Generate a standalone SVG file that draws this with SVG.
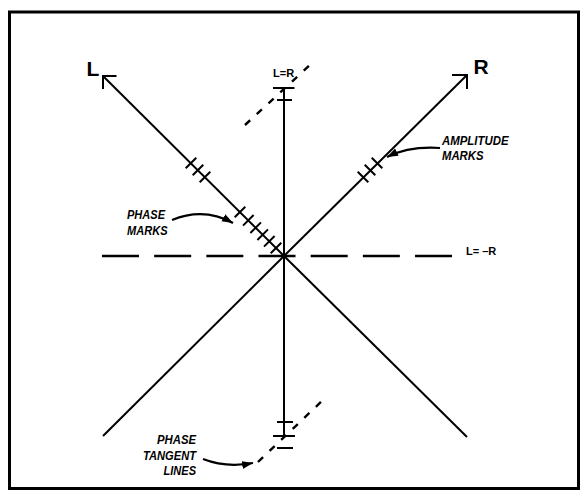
<svg xmlns="http://www.w3.org/2000/svg" width="586" height="500" viewBox="0 0 586 500">
<style>
.ax{stroke:#000;stroke-width:2;fill:none;stroke-linecap:butt}
.tk{stroke:#000;stroke-width:2;fill:none}
.dash{stroke:#000;stroke-width:2.6;fill:none;stroke-dasharray:37 15.17}
.tan{stroke:#000;stroke-width:2.4;fill:none;stroke-dasharray:7 9}
.ann{stroke:#000;stroke-width:2.2;fill:none}
.lbl{font-family:"Liberation Sans",Arial,sans-serif;font-style:italic;font-weight:bold;font-size:13px;fill:#000}
.sm{font-family:"Liberation Sans",Arial,sans-serif;font-weight:bold;font-size:11px;fill:#000}
.big{font-family:"Liberation Sans",Arial,sans-serif;font-weight:bold;font-size:21px;fill:#000}
</style>
<defs>
<marker id="ah" markerUnits="userSpaceOnUse" markerWidth="12" markerHeight="10" refX="11" refY="4" orient="auto">
<path d="M0,0 L11,4 L0,8 Z" fill="#000"/>
</marker>
</defs>
<rect x="9.5" y="12" width="569" height="476.5" fill="#fff" stroke="#000" stroke-width="3"/>
<g id="connectors">
<line class="ax" x1="284" y1="256" x2="103" y2="76"/>
<polyline class="ax" points="116.5,76 103,76 103,89"/>
<line class="ax" x1="284" y1="256" x2="467" y2="75"/>
<polyline class="ax" points="452,75 467,75 467,89"/>
<line class="ax" x1="284" y1="256" x2="103" y2="436"/>
<line class="ax" x1="284" y1="256" x2="467" y2="437"/>
<line class="ax" x1="284" y1="88" x2="284" y2="436"/>
<line class="dash" x1="102" y1="256" x2="452" y2="256"/>
<line class="tan" x1="245" y1="125" x2="311" y2="64"/>
<line class="tan" x1="258" y1="462" x2="324" y2="399"/>
<path class="ann" d="M172,220 Q204,207 233,223" marker-end="url(#ah)"/>
<path class="ann" d="M440,148 Q409,146 387,157" marker-end="url(#ah)"/>
<path class="ann" d="M203,459 Q226,468 253,463" marker-end="url(#ah)"/>
</g>
<g id="vertical-ticks">
<line class="tk" x1="273" y1="88" x2="294.5" y2="88"/>
<line class="tk" x1="277" y1="100" x2="292" y2="100"/>
<line class="tk" x1="277" y1="422" x2="293" y2="422"/>
<line class="tk" x1="273" y1="436" x2="295" y2="436"/>
<line class="tk" x1="277" y1="448" x2="293" y2="448"/>
</g>
<g id="upper-marks">
<line class="tk" x1="185.7" y1="168.3" x2="196.3" y2="157.7"/>
<line class="tk" x1="192.7" y1="175.3" x2="203.3" y2="164.7"/>
<line class="tk" x1="199.7" y1="182.3" x2="210.3" y2="171.7"/>
</g>
<g id="phase-marks">
<line class="tk" x1="234.7" y1="217.3" x2="245.3" y2="206.7"/>
<line class="tk" x1="243" y1="225.6" x2="253.6" y2="215"/>
<line class="tk" x1="250.4" y1="233" x2="261" y2="222.4"/>
<line class="tk" x1="257.4" y1="240" x2="268" y2="229.4"/>
<line class="tk" x1="264" y1="246.6" x2="274.6" y2="236"/>
<line class="tk" x1="270.7" y1="253.3" x2="281.3" y2="242.7"/>
<text class="lbl" x="127" y="218.5" textLength="38" lengthAdjust="spacingAndGlyphs">PHASE</text>
<text class="lbl" x="127" y="234.5" textLength="40.5" lengthAdjust="spacingAndGlyphs">MARKS</text>
</g>
<g id="amplitude-marks">
<line class="tk" x1="357.7" y1="171.7" x2="368.3" y2="182.3"/>
<line class="tk" x1="364.7" y1="164.7" x2="375.3" y2="175.3"/>
<line class="tk" x1="371.7" y1="157.7" x2="382.3" y2="168.3"/>
<text class="lbl" x="442" y="144.5" textLength="66.5" lengthAdjust="spacingAndGlyphs">AMPLITUDE</text>
<text class="lbl" x="442" y="160" textLength="41.5" lengthAdjust="spacingAndGlyphs">MARKS</text>
</g>
<g id="tangent-label">
<text class="lbl" x="157" y="444" textLength="39" lengthAdjust="spacingAndGlyphs">PHASE</text>
<text class="lbl" x="143" y="459.5" textLength="53" lengthAdjust="spacingAndGlyphs">TANGENT</text>
<text class="lbl" x="163.5" y="474.5" textLength="32.5" lengthAdjust="spacingAndGlyphs">LINES</text>
</g>
<g id="axis-labels">
<text class="big" x="86.5" y="75.5">L</text>
<text class="big" x="473.5" y="73.5">R</text>
<text class="sm" x="273" y="77">L=R</text>
<text class="sm" x="466" y="255">L= –R</text>
</g>
</svg>
